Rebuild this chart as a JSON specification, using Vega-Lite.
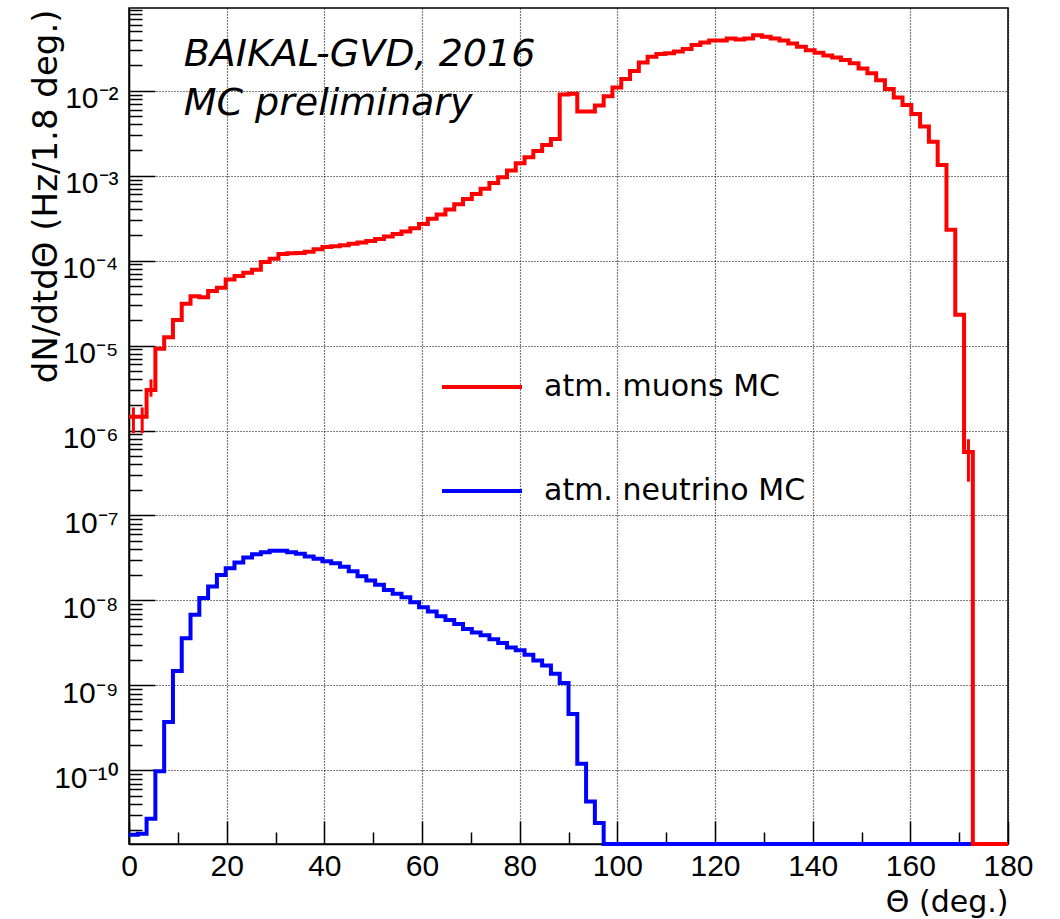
{
  "$schema": "https://vega.github.io/schema/vega-lite/v6.json",
  "width": 879,
  "height": 836,
  "autosize": {"type": "none"},
  "padding": {"left": 129, "top": 8, "right": 52, "bottom": 75},
  "background": "white",
  "config": {
    "font": "Liberation Sans",
    "view": {"stroke": "black", "strokeWidth": 1.5}
  },
  "datasets": {
    "muons": [
      {"t": 0, "v": 1.45e-6}, {"t": 1.8, "v": 1.45e-6}, {"t": 3.6, "v": 3.0e-6}, {"t": 5.4, "v": 9.2e-6}, {"t": 7.2, "v": 1.25e-5},
      {"t": 9, "v": 2.0e-5}, {"t": 10.8, "v": 3.1e-5}, {"t": 12.6, "v": 3.8e-5}, {"t": 14.4, "v": 3.7e-5}, {"t": 16.2, "v": 4.4e-5},
      {"t": 18, "v": 4.8e-5}, {"t": 19.8, "v": 6.0e-5}, {"t": 21.6, "v": 6.6e-5}, {"t": 23.4, "v": 7.2e-5}, {"t": 25.2, "v": 7.8e-5},
      {"t": 27, "v": 9.6e-5}, {"t": 28.8, "v": 1.05e-4}, {"t": 30.6, "v": 1.2e-4}, {"t": 32.4, "v": 1.22e-4}, {"t": 34.2, "v": 1.23e-4},
      {"t": 36, "v": 1.27e-4}, {"t": 37.8, "v": 1.36e-4}, {"t": 39.6, "v": 1.45e-4}, {"t": 41.4, "v": 1.48e-4}, {"t": 43.2, "v": 1.52e-4},
      {"t": 45, "v": 1.58e-4}, {"t": 46.8, "v": 1.63e-4}, {"t": 48.6, "v": 1.7e-4}, {"t": 50.4, "v": 1.8e-4}, {"t": 52.2, "v": 1.92e-4},
      {"t": 54, "v": 2.05e-4}, {"t": 55.8, "v": 2.2e-4}, {"t": 57.6, "v": 2.4e-4}, {"t": 59.4, "v": 2.7e-4}, {"t": 61.2, "v": 3.1e-4},
      {"t": 63, "v": 3.5e-4}, {"t": 64.8, "v": 4.0e-4}, {"t": 66.6, "v": 4.6e-4}, {"t": 68.4, "v": 5.3e-4}, {"t": 70.2, "v": 6.1e-4},
      {"t": 72, "v": 7.0e-4}, {"t": 73.8, "v": 8.2e-4}, {"t": 75.6, "v": 9.6e-4}, {"t": 77.4, "v": 1.15e-3}, {"t": 79.2, "v": 1.4e-3},
      {"t": 81, "v": 1.65e-3}, {"t": 82.8, "v": 1.95e-3}, {"t": 84.6, "v": 2.3e-3}, {"t": 86.4, "v": 2.7e-3}, {"t": 88.2, "v": 9.0e-3},
      {"t": 90, "v": 9.2e-3}, {"t": 91.8, "v": 5.7e-3}, {"t": 93.6, "v": 5.7e-3}, {"t": 95.4, "v": 6.7e-3}, {"t": 97.2, "v": 8.6e-3},
      {"t": 99, "v": 1.09e-2}, {"t": 100.8, "v": 1.37e-2}, {"t": 102.6, "v": 1.7e-2}, {"t": 104.4, "v": 2.15e-2}, {"t": 106.2, "v": 2.5e-2},
      {"t": 108, "v": 2.7e-2}, {"t": 109.8, "v": 2.75e-2}, {"t": 111.6, "v": 2.9e-2}, {"t": 113.4, "v": 3.1e-2}, {"t": 115.2, "v": 3.45e-2},
      {"t": 117, "v": 3.7e-2}, {"t": 118.8, "v": 3.9e-2}, {"t": 120.6, "v": 3.9e-2}, {"t": 122.4, "v": 4.1e-2}, {"t": 124.2, "v": 4.0e-2},
      {"t": 126, "v": 4.1e-2}, {"t": 127.8, "v": 4.5e-2}, {"t": 129.6, "v": 4.3e-2}, {"t": 131.4, "v": 4.1e-2}, {"t": 133.2, "v": 3.9e-2},
      {"t": 135, "v": 3.6e-2}, {"t": 136.8, "v": 3.3e-2}, {"t": 138.6, "v": 3.0e-2}, {"t": 140.4, "v": 2.8e-2}, {"t": 142.2, "v": 2.6e-2},
      {"t": 144, "v": 2.46e-2}, {"t": 145.8, "v": 2.3e-2}, {"t": 147.6, "v": 2.1e-2}, {"t": 149.4, "v": 1.83e-2}, {"t": 151.2, "v": 1.6e-2},
      {"t": 153, "v": 1.33e-2}, {"t": 154.8, "v": 1.05e-2}, {"t": 156.6, "v": 8.3e-3}, {"t": 158.4, "v": 6.8e-3}, {"t": 160.2, "v": 5.3e-3},
      {"t": 162, "v": 3.8e-3}, {"t": 163.8, "v": 2.5e-3}, {"t": 165.6, "v": 1.33e-3}, {"t": 167.4, "v": 2.3e-4}, {"t": 169.2, "v": 2.3e-5},
      {"t": 171, "v": 5.6e-7}, {"t": 172.8, "v": 1.36e-11}, {"t": 174.6, "v": 1.36e-11}, {"t": 176.4, "v": 1.36e-11}, {"t": 178.2, "v": 1.36e-11},
      {"t": 180, "v": 1.36e-11}
    ],
    "neutrino": [
      {"t": 0, "v": 1.75e-11}, {"t": 1.8, "v": 1.8e-11}, {"t": 3.6, "v": 2.7e-11}, {"t": 5.4, "v": 9.8e-11}, {"t": 7.2, "v": 3.7e-10},
      {"t": 9, "v": 1.48e-9}, {"t": 10.8, "v": 3.6e-9}, {"t": 12.6, "v": 6.8e-9}, {"t": 14.4, "v": 1.07e-8}, {"t": 16.2, "v": 1.46e-8},
      {"t": 18, "v": 2.0e-8}, {"t": 19.8, "v": 2.4e-8}, {"t": 21.6, "v": 2.8e-8}, {"t": 23.4, "v": 3.2e-8}, {"t": 25.2, "v": 3.5e-8},
      {"t": 27, "v": 3.7e-8}, {"t": 28.8, "v": 3.85e-8}, {"t": 30.6, "v": 3.85e-8}, {"t": 32.4, "v": 3.7e-8}, {"t": 34.2, "v": 3.55e-8},
      {"t": 36, "v": 3.3e-8}, {"t": 37.8, "v": 3.1e-8}, {"t": 39.6, "v": 2.9e-8}, {"t": 41.4, "v": 2.75e-8}, {"t": 43.2, "v": 2.5e-8},
      {"t": 45, "v": 2.2e-8}, {"t": 46.8, "v": 1.93e-8}, {"t": 48.6, "v": 1.72e-8}, {"t": 50.4, "v": 1.53e-8}, {"t": 52.2, "v": 1.33e-8},
      {"t": 54, "v": 1.2e-8}, {"t": 55.8, "v": 1.09e-8}, {"t": 57.6, "v": 9.5e-9}, {"t": 59.4, "v": 8.3e-9}, {"t": 61.2, "v": 7.4e-9},
      {"t": 63, "v": 6.5e-9}, {"t": 64.8, "v": 5.9e-9}, {"t": 66.6, "v": 5.3e-9}, {"t": 68.4, "v": 4.6e-9}, {"t": 70.2, "v": 4.2e-9},
      {"t": 72, "v": 3.9e-9}, {"t": 73.8, "v": 3.5e-9}, {"t": 75.6, "v": 3.15e-9}, {"t": 77.4, "v": 2.8e-9}, {"t": 79.2, "v": 2.6e-9},
      {"t": 81, "v": 2.3e-9}, {"t": 82.8, "v": 1.96e-9}, {"t": 84.6, "v": 1.72e-9}, {"t": 86.4, "v": 1.37e-9}, {"t": 88.2, "v": 1.07e-9},
      {"t": 90, "v": 4.6e-10}, {"t": 91.8, "v": 1.2e-10}, {"t": 93.6, "v": 4.3e-11}, {"t": 95.4, "v": 2.4e-11}, {"t": 97.2, "v": 1.36e-11},
      {"t": 99, "v": 1.36e-11}, {"t": 100.8, "v": 1.36e-11}, {"t": 102.6, "v": 1.36e-11}, {"t": 104.4, "v": 1.36e-11}, {"t": 106.2, "v": 1.36e-11},
      {"t": 108, "v": 1.36e-11}, {"t": 109.8, "v": 1.36e-11}, {"t": 111.6, "v": 1.36e-11}, {"t": 113.4, "v": 1.36e-11}, {"t": 115.2, "v": 1.36e-11},
      {"t": 117, "v": 1.36e-11}, {"t": 118.8, "v": 1.36e-11}, {"t": 120.6, "v": 1.36e-11}, {"t": 122.4, "v": 1.36e-11}, {"t": 124.2, "v": 1.36e-11},
      {"t": 126, "v": 1.36e-11}, {"t": 127.8, "v": 1.36e-11}, {"t": 129.6, "v": 1.36e-11}, {"t": 131.4, "v": 1.36e-11}, {"t": 133.2, "v": 1.36e-11},
      {"t": 135, "v": 1.36e-11}, {"t": 136.8, "v": 1.36e-11}, {"t": 138.6, "v": 1.36e-11}, {"t": 140.4, "v": 1.36e-11}, {"t": 142.2, "v": 1.36e-11},
      {"t": 144, "v": 1.36e-11}, {"t": 145.8, "v": 1.36e-11}, {"t": 147.6, "v": 1.36e-11}, {"t": 149.4, "v": 1.36e-11}, {"t": 151.2, "v": 1.36e-11},
      {"t": 153, "v": 1.36e-11}, {"t": 154.8, "v": 1.36e-11}, {"t": 156.6, "v": 1.36e-11}, {"t": 158.4, "v": 1.36e-11}, {"t": 160.2, "v": 1.36e-11},
      {"t": 162, "v": 1.36e-11}, {"t": 163.8, "v": 1.36e-11}, {"t": 165.6, "v": 1.36e-11}, {"t": 167.4, "v": 1.36e-11}, {"t": 169.2, "v": 1.36e-11},
      {"t": 171, "v": 1.36e-11}, {"t": 172.8, "v": 1.36e-11}, {"t": 174.6, "v": 1.36e-11}, {"t": 176.4, "v": 1.36e-11}, {"t": 178.2, "v": 1.36e-11},
      {"t": 180, "v": 1.36e-11}
    ],
    "errors": [
      {"t": 0.9, "lo": 9.3e-7, "hi": 1.87e-6},
      {"t": 2.7, "lo": 9.3e-7, "hi": 1.87e-6},
      {"t": 4.5, "lo": 2.5e-6, "hi": 4.0e-6},
      {"t": 171.9, "lo": 2.5e-7, "hi": 7.9e-7}
    ],
    "notes": [
      {"t": 11.2, "v": 0.026, "label": "BAIKAL-GVD, 2016"},
      {"t": 11.2, "v": 0.0069, "label": "MC preliminary"}
    ]
  },
  "layer": [
    {
      "data": {"name": "neutrino"},
      "mark": {"type": "line", "interpolate": "step-after", "strokeWidth": 4, "clip": false},
      "encoding": {
        "x": {
          "field": "t", "type": "quantitative", "title": "Θ (deg.)",
          "scale": {"domain": [0, 180], "nice": false, "zero": false},
          "axis": {
            "values": [0, 5, 10, 15, 20, 25, 30, 35, 40, 45, 50, 55, 60, 65, 70, 75, 80, 85, 90, 95, 100, 105, 110, 115, 120, 125, 130, 135, 140, 145, 150, 155, 160, 165, 170, 175, 180],
            "labelExpr": "datum.value % 20 === 0 ? datum.label : ''",
            "labelFont": "Liberation Sans", "labelFontSize": 30, "labelColor": "black",
            "labelPadding": 30, "labelFlush": false, "labelOverlap": false,
            "tickSize": {"condition": {"test": "datum.value % 20 === 0", "value": -23}, "value": -12},
            "tickColor": "black", "tickWidth": 1.5,
            "domainColor": "black", "domainWidth": 1.5,
            "grid": true, "gridColor": "black", "gridDash": [1, 2], "gridWidth": 1.2,
            "gridOpacity": {"condition": {"test": "datum.value % 20 === 0", "value": 1}, "value": 0},
            "titleFont": "DejaVu Sans", "titleFontSize": 30, "titleFontWeight": "normal", "titleColor": "black",
            "titleAnchor": "end", "titleAlign": "right", "titleBaseline": "alphabetic",
            "titleX": 879, "titleY": 67
          }
        },
        "y": {
          "field": "v", "type": "quantitative", "title": "dN/dtdΘ (Hz/1.8 deg.)",
          "scale": {"type": "log", "domain": [1.36e-11, 0.094], "nice": false},
          "axis": {
            "values": [2e-11, 3e-11, 4e-11, 5e-11, 6e-11, 7e-11, 8e-11, 9e-11,
              1e-10, 2e-10, 3e-10, 4e-10, 5e-10, 6e-10, 7e-10, 8e-10, 9e-10,
              1e-9, 2e-9, 3e-9, 4e-9, 5e-9, 6e-9, 7e-9, 8e-9, 9e-9,
              1e-8, 2e-8, 3e-8, 4e-8, 5e-8, 6e-8, 7e-8, 8e-8, 9e-8,
              1e-7, 2e-7, 3e-7, 4e-7, 5e-7, 6e-7, 7e-7, 8e-7, 9e-7,
              1e-6, 2e-6, 3e-6, 4e-6, 5e-6, 6e-6, 7e-6, 8e-6, 9e-6,
              1e-5, 2e-5, 3e-5, 4e-5, 5e-5, 6e-5, 7e-5, 8e-5, 9e-5,
              1e-4, 2e-4, 3e-4, 4e-4, 5e-4, 6e-4, 7e-4, 8e-4, 9e-4,
              1e-3, 2e-3, 3e-3, 4e-3, 5e-3, 6e-3, 7e-3, 8e-3, 9e-3,
              1e-2, 2e-2, 3e-2, 4e-2, 5e-2, 6e-2, 7e-2, 8e-2, 9e-2],
            "labelExpr": "abs(log(datum.value)/LN10 - round(log(datum.value)/LN10)) < 0.0001 ? ['10⁻¹¹','10⁻¹⁰','10⁻⁹','10⁻⁸','10⁻⁷','10⁻⁶','10⁻⁵','10⁻⁴','10⁻³','10⁻²'][round(log(datum.value)/LN10) + 11] : ''",
            "labelFont": "Liberation Sans", "labelFontSize": 30, "labelColor": "black",
            "labelPadding": 37, "labelFlush": false, "labelOverlap": false,
            "labelBaseline": "alphabetic", "labelOffset": 17,
            "tickSize": {"condition": {"test": "abs(log(datum.value)/LN10 - round(log(datum.value)/LN10)) < 0.0001", "value": -26}, "value": -13},
            "tickColor": "black", "tickWidth": 1.5,
            "domainColor": "black", "domainWidth": 1.5,
            "grid": true, "gridColor": "black", "gridDash": [1, 2], "gridWidth": 1.2,
            "gridOpacity": {"condition": {"test": "abs(log(datum.value)/LN10 - round(log(datum.value)/LN10)) < 0.0001", "value": 1}, "value": 0},
            "titleFont": "DejaVu Sans", "titleFontSize": 34, "titleFontWeight": "normal", "titleColor": "black",
            "titleAngle": -90, "titleAlign": "right", "titleBaseline": "alphabetic",
            "titleX": -73, "titleY": 1
          }
        },
        "color": {
          "datum": "atm. neutrino MC",
          "scale": {"domain": ["atm. muons MC", "atm. neutrino MC"], "range": ["#ff0000", "#0000ff"]},
          "legend": {
            "orient": "none", "legendX": 311, "legendY": 337, "title": null,
            "symbolType": "stroke", "symbolSize": 6400, "symbolStrokeWidth": 4,
            "labelFont": "DejaVu Sans", "labelFontSize": 30, "labelColor": "black",
            "labelOffset": 20, "rowPadding": 47, "padding": 0, "labelLimit": 0
          }
        }
      }
    },
    {
      "data": {"name": "muons"},
      "mark": {"type": "line", "interpolate": "step-after", "strokeWidth": 4, "clip": false},
      "encoding": {
        "x": {"field": "t", "type": "quantitative", "title": "Θ (deg.)"},
        "y": {"field": "v", "type": "quantitative", "title": "dN/dtdΘ (Hz/1.8 deg.)"},
        "color": {"datum": "atm. muons MC"}
      }
    },
    {
      "data": {"name": "errors"},
      "mark": {"type": "rule", "color": "#ff0000", "strokeWidth": 3},
      "encoding": {
        "x": {"field": "t", "type": "quantitative", "title": "Θ (deg.)"},
        "y": {"field": "lo", "type": "quantitative", "title": "dN/dtdΘ (Hz/1.8 deg.)"},
        "y2": {"field": "hi"}
      }
    },
    {
      "data": {"name": "notes"},
      "mark": {"type": "text", "align": "left", "baseline": "middle", "font": "DejaVu Sans", "fontStyle": "italic", "fontSize": 38, "color": "black"},
      "encoding": {
        "x": {"field": "t", "type": "quantitative", "title": "Θ (deg.)"},
        "y": {"field": "v", "type": "quantitative", "title": "dN/dtdΘ (Hz/1.8 deg.)"},
        "text": {"field": "label"}
      }
    }
  ]
}
